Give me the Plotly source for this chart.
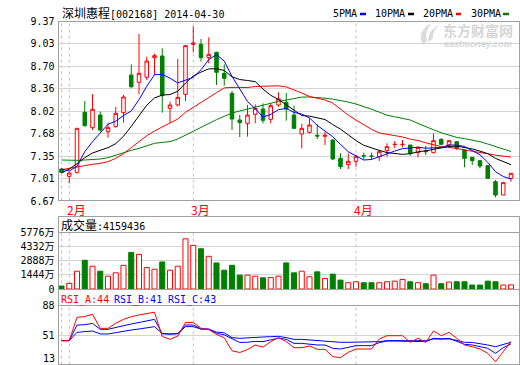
import plotly.graph_objects as go

W, H = 520, 365
def px(x):
    return x / W
def py(y):
    return 1 - y / H

# ---------------- data ----------------
dates = ["2014-01-30",
         "2014-02-07", "2014-02-10", "2014-02-11", "2014-02-12", "2014-02-13", "2014-02-14",
         "2014-02-17", "2014-02-18", "2014-02-19", "2014-02-20", "2014-02-21",
         "2014-02-24", "2014-02-25", "2014-02-26", "2014-02-27", "2014-02-28",
         "2014-03-03", "2014-03-04", "2014-03-05", "2014-03-06", "2014-03-07",
         "2014-03-10", "2014-03-11", "2014-03-12", "2014-03-13", "2014-03-14",
         "2014-03-17", "2014-03-18", "2014-03-19", "2014-03-20", "2014-03-21",
         "2014-03-24", "2014-03-25", "2014-03-26", "2014-03-27", "2014-03-28", "2014-03-31",
         "2014-04-01", "2014-04-02", "2014-04-03", "2014-04-04",
         "2014-04-08", "2014-04-09", "2014-04-10", "2014-04-11",
         "2014-04-14", "2014-04-15", "2014-04-16", "2014-04-17", "2014-04-18",
         "2014-04-21", "2014-04-22", "2014-04-23", "2014-04-24", "2014-04-25",
         "2014-04-28", "2014-04-29", "2014-04-30"]

open_ = [7.15, 7.04, 7.10, 8.00, 7.77, 7.96, 7.71, 7.785, 7.995, 8.56,
         8.45, 8.525, 8.82, 8.845, 8.06, 8.11, 8.27, 9.02, 9.02, 8.82,
         8.90, 8.585, 8.285, 7.885, 7.835, 7.97, 8.05, 7.895, 8.11, 8.15,
         7.96, 7.675, 7.70, 7.655, 7.64, 7.585, 7.31, 7.215, 7.265, 7.35,
         7.345, 7.335, 7.425, 7.515, 7.515, 7.51, 7.395, 7.42, 7.395, 7.595,
         7.51, 7.56, 7.435, 7.325, 7.275, 7.20, 6.96, 6.76, 7.01]
high = [7.16, 7.11, 7.76, 8.17, 8.275, 8.01, 7.835, 8.08, 8.26, 8.72,
        9.175, 8.835, 8.88, 8.96, 8.16, 8.80, 9.01, 9.29, 9.10, 9.125,
        8.91, 8.72, 8.32, 7.96, 8.11, 8.12, 8.135, 8.135, 8.30, 8.29,
        8.10, 7.83, 7.91, 7.82, 7.71, 7.595, 7.385, 7.385, 7.36, 7.395,
        7.395, 7.435, 7.535, 7.57, 7.585, 7.51, 7.485, 7.495, 7.685, 7.61,
        7.575, 7.57, 7.445, 7.325, 7.285, 7.21, 6.985, 6.96, 7.085]
low = [7.09, 6.935, 7.08, 7.785, 7.735, 7.71, 7.62, 7.77, 7.845, 8.36,
       8.27, 8.485, 8.56, 7.995, 7.84, 8.09, 8.17, 8.90, 8.76, 8.735,
       8.41, 8.40, 7.735, 7.63, 7.635, 7.835, 7.835, 7.835, 8.085, 7.875,
       7.75, 7.46, 7.68, 7.60, 7.51, 7.285, 7.15, 7.15, 7.185, 7.295,
       7.295, 7.27, 7.335, 7.46, 7.475, 7.35, 7.325, 7.36, 7.385, 7.51,
       7.46, 7.435, 7.175, 7.21, 7.16, 7.00, 6.725, 6.76, 6.96]
close = [7.10, 7.09, 7.76, 7.80, 8.045, 7.735, 7.77, 7.985, 8.23, 8.385,
         8.585, 8.77, 8.85, 8.25, 8.11, 8.225, 9.00, 9.04, 8.82, 8.87,
         8.60, 8.51, 7.90, 7.845, 7.96, 8.06, 7.88, 8.10, 8.20, 8.05,
         7.76, 7.76, 7.81, 7.645, 7.655, 7.30, 7.185, 7.265, 7.34, 7.345,
         7.34, 7.41, 7.485, 7.52, 7.52, 7.385, 7.475, 7.41, 7.575, 7.52,
         7.575, 7.46, 7.31, 7.275, 7.195, 7.01, 6.76, 6.945, 7.085]

volume = [300, 570, 1805, 2910, 2310, 1805, 1300, 1640, 2400, 3710,
          3510, 2170, 2005, 2740, 1905, 2310, 5085, 4415, 4080, 3310,
          2640, 1905, 2400, 1405, 1405, 1300, 1135, 1170, 1300, 2640,
          1640, 1805, 1240, 1740, 1070, 1505, 900, 635, 735, 635,
          635, 635, 735, 800, 970, 735, 635, 535, 1405, 535,
          700, 735, 735, 400, 400, 800, 735, 400, 416]

ma5 = [7.15, 7.12, 7.19, 7.41, 7.559, 7.686, 7.822, 7.867, 7.953, 8.021,
       8.191, 8.391, 8.564, 8.568, 8.513, 8.441, 8.487, 8.525, 8.639, 8.791,
       8.866, 8.768, 8.54, 8.345, 8.163, 8.055, 7.929, 7.969, 8.04, 8.058,
       7.998, 7.974, 7.916, 7.805, 7.726, 7.634, 7.519, 7.409, 7.347, 7.285,
       7.293, 7.338, 7.383, 7.42, 7.455, 7.464, 7.477, 7.462, 7.473, 7.473,
       7.511, 7.508, 7.488, 7.428, 7.363, 7.25, 7.11, 7.037, 6.999]
ma10 = [7.09, 7.15, 7.23, 7.32, 7.39, 7.435, 7.47, 7.53, 7.64, 7.79,
        7.94, 8.107, 8.216, 8.26, 8.267, 8.316, 8.439, 8.545, 8.604, 8.652,
        8.654, 8.628, 8.533, 8.492, 8.477, 8.461, 8.349, 8.255, 8.193, 8.111,
        8.027, 7.952, 7.943, 7.923, 7.892, 7.816, 7.747, 7.663, 7.576, 7.506,
        7.464, 7.429, 7.396, 7.384, 7.37, 7.379, 7.408, 7.423, 7.447, 7.464,
        7.488, 7.493, 7.475, 7.451, 7.418, 7.381, 7.309, 7.263, 7.214]
ma20 = [7.14, 7.16, 7.19, 7.21, 7.22, 7.235, 7.26, 7.31, 7.38, 7.47,
        7.56, 7.65, 7.72, 7.78, 7.84, 7.90, 8.00, 8.07, 8.15, 8.221,
        8.296, 8.367, 8.374, 8.376, 8.372, 8.388, 8.394, 8.40, 8.398, 8.381,
        8.34, 8.29, 8.238, 8.207, 8.185, 8.138, 8.048, 7.959, 7.884, 7.808,
        7.745, 7.69, 7.669, 7.653, 7.631, 7.597, 7.577, 7.543, 7.511, 7.485,
        7.476, 7.461, 7.436, 7.417, 7.394, 7.38, 7.358, 7.343, 7.33]
ma30 = [7.285, 7.28, 7.28, 7.285, 7.29, 7.30, 7.32, 7.36, 7.39, 7.43,
        7.46, 7.50, 7.535, 7.55, 7.56, 7.60, 7.66, 7.71, 7.77, 7.84,
        7.89, 7.94, 7.99, 8.02, 8.05, 8.08, 8.11, 8.14, 8.165, 8.184,
        8.206, 8.229, 8.23, 8.225, 8.212, 8.198, 8.178, 8.154, 8.124, 8.089,
        8.048, 8.003, 7.957, 7.933, 7.913, 7.885, 7.834, 7.78, 7.738, 7.693,
        7.659, 7.624, 7.605, 7.586, 7.56, 7.525, 7.488, 7.449, 7.412]

rsi_a = [44.9, 44.9, 73.5, 74.5, 77.2, 60.0, 60.0, 66.2, 71.0, 74.3,
         76.4, 78.4, 79.8, 50.0, 46.6, 50.5, 67.2, 67.2, 60.0, 58.5,
         52.5, 48.5, 32.5, 30.4, 34.0, 39.6, 37.0, 43.7, 48.6, 43.7,
         36.3, 36.3, 38.4, 34.3, 34.3, 25.3, 24.1, 30.6, 34.7, 34.7,
         34.7, 47.0, 51.0, 51.0, 51.0, 42.9, 47.8, 42.9, 56.8, 51.0,
         55.1, 47.8, 39.6, 37.5, 34.7, 29.4, 19.2, 31.4, 44.0]
rsi_b = [44.9, 44.9, 64.0, 64.5, 66.0, 58.8, 58.8, 61.3, 63.3, 65.3,
         67.0, 69.0, 71.0, 53.5, 53.0, 53.5, 64.1, 64.1, 59.2, 59.2,
         54.0, 52.0, 47.8, 42.7, 43.0, 44.0, 43.7, 45.5, 48.0, 46.5,
         41.6, 41.6, 40.4, 39.6, 39.6, 35.5, 34.7, 36.3, 38.8, 38.8,
         38.8, 42.5, 44.5, 44.5, 44.5, 43.7, 44.5, 43.7, 47.8, 47.0,
         47.8, 44.5, 40.4, 39.6, 37.5, 35.5, 29.4, 36.3, 41.0]
rsi_c = [44.9, 44.9, 55.1, 55.9, 56.8, 53.1, 53.1, 54.7, 56.8, 58.0,
         59.2, 60.4, 62.1, 53.5, 53.0, 53.5, 62.1, 62.1, 59.2, 58.8,
         55.5, 54.5, 48.6, 47.8, 48.5, 49.4, 49.4, 49.8, 50.2, 48.6,
         46.5, 46.5, 45.7, 44.5, 43.7, 42.9, 42.9, 42.9, 42.9, 42.9,
         42.9, 43.7, 44.9, 44.9, 44.9, 44.9, 44.9, 44.9, 47.0, 47.0,
         47.0, 45.3, 42.9, 42.7, 41.6, 39.6, 37.5, 40.4, 43.0]

price_ticks = [6.67, 7.0075, 7.345, 7.6825, 8.02, 8.3575, 8.695, 9.0325, 9.37]
price_labels = ["6.67", "7.01", "7.35", "7.68", "8.02", "8.36", "8.70", "9.03", "9.37"]
vol_ticks = [0, 1444, 2888, 4332, 5776]
vol_labels = ["0", "1444万", "2888万", "4332万", "5776万"]
rsi_ticks = [51, 88]
rsi_labels = ["51", "88"]
rsi_bottom_label = "13"

month_dates = ["2014-02-07", "2014-03-03", "2014-04-01"]
month_labels = ["2月", "3月", "4月"]
divider_dates = ["2014-01-30"] + month_dates

title_name = "深圳惠程"
title_rest = "[002168] 2014-04-30"
vol_header = "成交量:4159436"
rsi_headers = ["RSI_A:44", "RSI_B:41", "RSI_C:43"]
ma_names = ["5PMA", "10PMA", "20PMA", "30PMA"]
watermark_cn = "东方财富网"
watermark_en = "eastmoney.com"

# ---------------- style ----------------
RED = "#ff0000"
GREEN = "#008000"
BLUE = "#0000ff"
BLACK = "#000000"
GRID = "#d4d4d4"
BORDER = "#a0a0a0"
DASH = "#c4c4c4"
MONO = "DejaVu Sans Mono, Noto Sans CJK SC"
CJK = "Noto Sans CJK SC"
FS = 10

fig = go.Figure()

fig.add_trace(go.Candlestick(
    x=dates, open=open_, high=high, low=low, close=close,
    increasing=dict(line=dict(color=RED, width=1), fillcolor="#ffffff"),
    decreasing=dict(line=dict(color=GREEN, width=1), fillcolor=GREEN),
    whiskerwidth=0, xaxis="x", yaxis="y", hoverinfo="skip", showlegend=False))

for vals, col in [(ma30, GREEN), (ma20, RED), (ma10, BLACK), (ma5, BLUE)]:
    fig.add_trace(go.Scatter(x=dates, y=vals, mode="lines", line=dict(color=col, width=1),
                             xaxis="x", yaxis="y", hoverinfo="skip", showlegend=False))

up = [c >= o for o, c in zip(open_, close)]
fig.add_trace(go.Bar(
    x=dates, y=volume, width=0.65,
    marker=dict(color=["#ffffff" if u else GREEN for u in up],
                line=dict(color=[RED if u else GREEN for u in up], width=1)),
    xaxis="x2", yaxis="y2", hoverinfo="skip", showlegend=False))

for vals, col in [(rsi_c, BLUE), (rsi_b, BLUE), (rsi_a, RED)]:
    fig.add_trace(go.Scatter(x=dates, y=vals, mode="lines", line=dict(color=col, width=1),
                             xaxis="x3", yaxis="y3", hoverinfo="skip", showlegend=False))

xr = [-3 / 7.75, -3 / 7.75 + 461 / 7.75]
xcommon = dict(domain=[px(58.5), px(519.5)], type="category", range=xr, showticklabels=False,
               showgrid=False, zeroline=False, showline=False, ticks="", fixedrange=True,
               automargin=False)
ycommon = dict(showline=False, zeroline=False, ticks="", gridcolor=GRID, gridwidth=1,
               tickfont=dict(family=MONO, size=FS, color=BLACK), fixedrange=True,
               ticklabelstandoff=3, automargin=False)

rsi_lo = 88 - 59.5 / 0.816

fig.update_layout(
    width=W, height=H, autosize=False,
    margin=dict(l=0, r=0, t=0, b=0, pad=0, autoexpand=False),
    paper_bgcolor="#ffffff", plot_bgcolor="#ffffff",
    boxgap=0.35, bargap=0.35,
    showlegend=False,
    xaxis=dict(xcommon, anchor="y", rangeslider=dict(visible=False)),
    xaxis2=dict(xcommon, anchor="y2"),
    xaxis3=dict(xcommon, anchor="y3"),
    yaxis=dict(ycommon, domain=[py(201), py(21)], range=[6.67, 9.37],
               tickvals=price_ticks, ticktext=price_labels, anchor="x"),
    yaxis2=dict(ycommon, domain=[py(289), py(232)], range=[0, 5776],
                tickvals=vol_ticks, ticktext=vol_labels, anchor="x2"),
    yaxis3=dict(ycommon, domain=[0, py(305.5)], range=[rsi_lo, 88],
                tickvals=rsi_ticks, ticktext=rsi_labels, anchor="x3"),
)

shapes = []
def hline(y, x0=58, x1=520, color=BORDER):
    shapes.append(dict(type="line", xref="paper", yref="paper", x0=px(x0), x1=px(x1),
                       y0=py(y), y1=py(y), line=dict(color=color, width=1)))
def vline(x, y0, y1, color=BORDER):
    shapes.append(dict(type="line", xref="paper", yref="paper", x0=px(x), x1=px(x),
                       y0=py(y0), y1=py(y1), line=dict(color=color, width=1)))

# main panel box
hline(21.5); hline(200.5)
vline(58.5, 21.5, 200.5); vline(519.5, 21.5, 200.5)
# lower boxes
hline(216.5); hline(232.5); hline(289.5); hline(305.5); hline(364.5)
vline(58.5, 216.5, 365); vline(519.5, 216.5, 365)

# dashed month dividers
for d in divider_dates:
    for (a, b) in [(21.5, 200.5), (232.5, 289.5), (305.5, 364.5)]:
        shapes.append(dict(type="line", xref="x", yref="paper", x0=d, x1=d,
                           y0=py(b), y1=py(a), layer="below",
                           line=dict(color=DASH, width=1, dash="3px,3px")))

# legend swatches
legend_x = [331.5, 374, 422, 470]
swatch_x = [(360, 366), (408, 414), (456, 461), (503, 509)]
for (a, b), col in zip(swatch_x, [BLUE, BLACK, RED, GREEN]):
    shapes.append(dict(type="line", xref="paper", yref="paper", x0=px(a), x1=px(b),
                       y0=py(14), y1=py(14), line=dict(color=col, width=2.5)))

# watermark logo swirl
def pth(pts):
    s = "M %f %f" % (px(pts[0][0]), py(pts[0][1]))
    for i in range(1, len(pts), 2):
        s += " Q %f %f %f %f" % (px(pts[i][0]), py(pts[i][1]), px(pts[i + 1][0]), py(pts[i + 1][1]))
    return s + " Z"
shapes.append(dict(type="path", xref="paper", yref="paper", layer="below",
                   path=pth([(423, 45), (416, 31), (432, 23), (424, 31), (427, 40), (426, 43), (423, 45)]),
                   fillcolor="#dadada", line=dict(width=0)))
shapes.append(dict(type="path", xref="paper", yref="paper", layer="below",
                   path=pth([(428, 42), (428, 30), (440, 24), (432, 31), (433, 38), (431, 41), (428, 42)]),
                   fillcolor="#dadada", line=dict(width=0)))

fig.update_layout(shapes=shapes)

ann = []
def text(x, y, s, color=BLACK, size=FS, family=MONO, xanchor="left", **kw):
    ann.append(dict(xref="paper", yref="paper", x=px(x), y=py(y), text=s, showarrow=False,
                    xanchor=xanchor, yanchor="middle", font=dict(family=family, size=size, color=color),
                    borderpad=0, **kw))

text(61, 14, '<span style="font-size:12px">%s</span>%s' % (title_name, title_rest))
for name, x in zip(ma_names, legend_x):
    text(x, 14, name)
text(441.5, 30, "<b>%s</b>" % watermark_cn, color="#d6d6d6", size=14, family=CJK)
text(443, 43.5, "<b><i>%s</i></b>" % watermark_en, color="#d6d6d6", size=9, family="Liberation Sans")
for d, lab in zip(month_dates, month_labels):
    ann.append(dict(xref="x", yref="paper", x=d, y=py(209), text=lab, showarrow=False,
                    xanchor="left", yanchor="middle", xshift=-3,
                    font=dict(family=CJK, size=12, color=RED), borderpad=0))
text(59.5, 225.5, '<span style="font-size:12px">%s</span>%s' % (vol_header[:3], vol_header[3:]))
for s, x, col in zip(rsi_headers, [59.5, 112.5, 166.5], [RED, BLUE, BLUE]):
    text(x, 299.5, s, color=col)
text(55.5, 358.5, rsi_bottom_label, xanchor="right")

fig.update_layout(annotations=ann)

fig.write_html("out.html", config={"displayModeBar": False},
               post_script="document.body.style.margin='0';document.body.style.overflow='hidden';")
